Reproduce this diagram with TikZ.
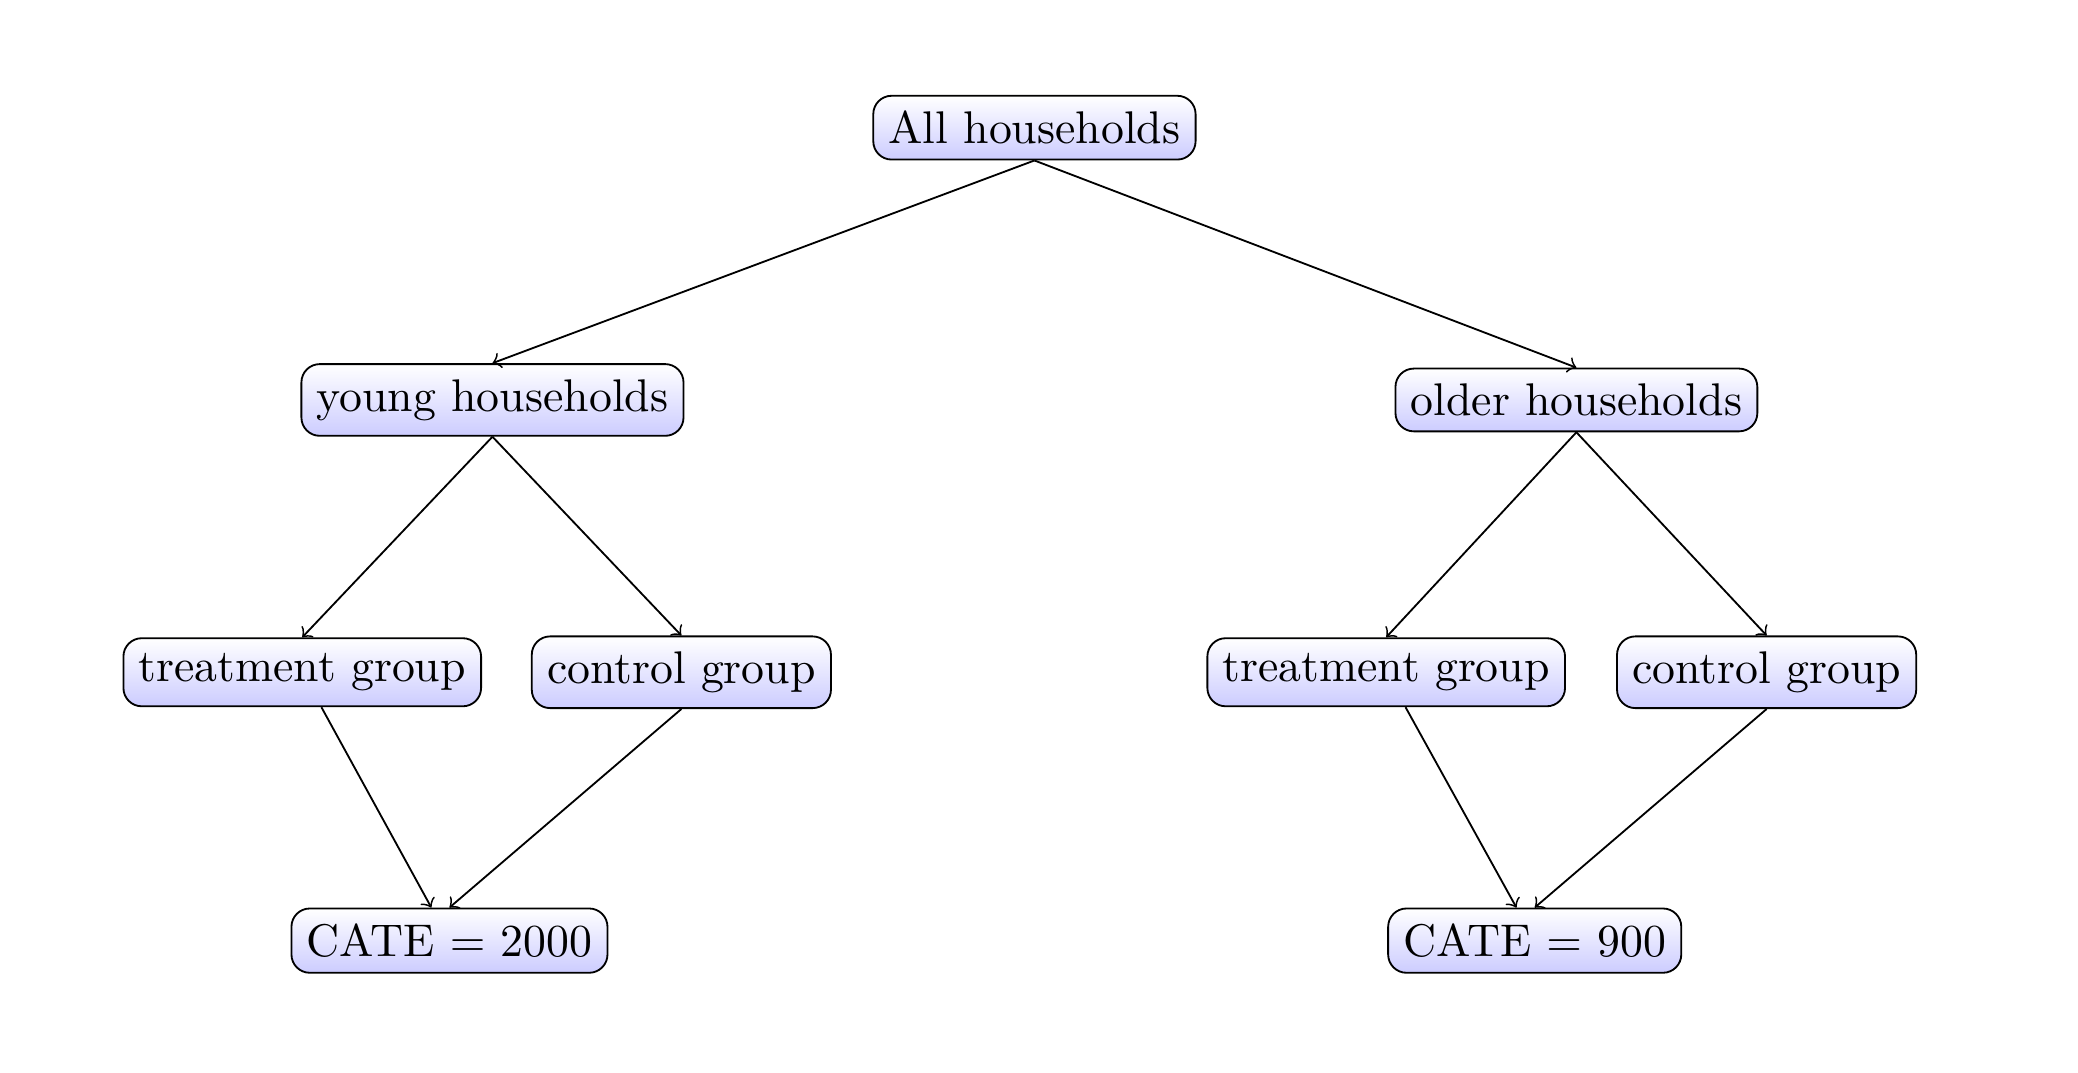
\documentclass[tikz,border=0pt]{standalone}
\usetikzlibrary{positioning}
\begin{document}
\begin{tikzpicture}[
  box/.style={draw, rounded corners=4pt, top color=white, bottom color=blue!20, inner sep=3.33pt},
  link/.style={draw, ->}
]
\useasboundingbox (0,0) rectangle (15.95,-8.23);
\node[box] (all) at (7.94,-0.98) {All households};
\node[box] (young) at (3.78,-3.07) {young households};
\node[box] (older) at (12.10,-3.07) {older households};
\node[box] (treatL) at (2.32,-5.16) {treatment group};
\node[box] (ctrlL) at (5.23,-5.16) {control group};
\node[box] (treatR) at (10.64,-5.16) {treatment group};
\node[box] (ctrlR) at (13.56,-5.16) {control group};
\node[box] (cateL) at (3.45,-7.22) {CATE $=$ 2000};
\node[box] (cateR) at (11.78,-7.22) {CATE $=$ 900};
\draw[link] (all.south) -- (young.north);
\draw[link] (all.south) -- (older.north);
\draw[link] (young.south) -- (treatL.north);
\draw[link] (young.south) -- (ctrlL.north);
\draw[link] (older.south) -- (treatR.north);
\draw[link] (older.south) -- (ctrlR.north);
\draw[link] (treatL) -- (cateL);
\draw[link] (ctrlL.south) -- (cateL.north);
\draw[link] (treatR) -- (cateR);
\draw[link] (ctrlR.south) -- (cateR.north);
\end{tikzpicture}
\end{document}
